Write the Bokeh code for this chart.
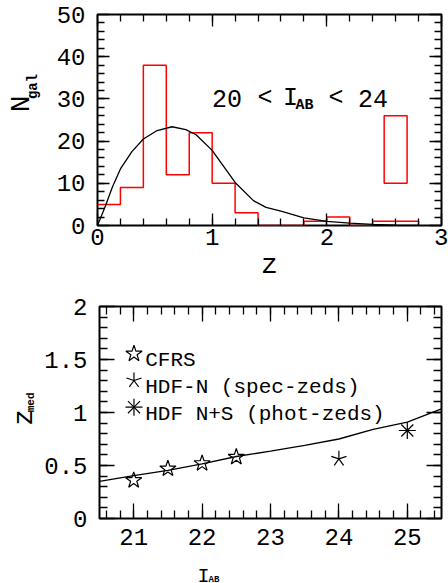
import numpy as np
from bokeh.plotting import figure
from bokeh.layouts import column, row
from bokeh.models import FixedTicker, LinearAxis, Label, CustomJSTickFormatter, Grid
from bokeh.embed import file_html
from bokeh.resources import INLINE

# ---------------- data: top panel ----------------
hist_edges = [0.0, 0.2, 0.4, 0.6, 0.8, 1.0, 1.2, 1.4, 1.6, 1.8, 2.0, 2.2, 2.4, 2.6, 2.8]
hist_counts = [5, 9, 38, 12, 22, 10, 3, 0, 0, 1, 2, 0, 1, 1]
box_left = [2.5]
box_right = [2.7]
box_bottom = [10]
box_top = [26]
model_z = [0.0, 0.07, 0.13, 0.2, 0.3, 0.4, 0.52, 0.65, 0.77, 0.86, 1.0, 1.1, 1.2,
           1.36, 1.47, 1.6, 1.8, 2.0, 2.2, 2.4, 2.6, 2.8]
model_n = [0.0, 4.7, 9.1, 13.4, 17.5, 20.5, 22.5, 23.4, 22.7, 21.5, 17.8, 14.0, 10.2,
           5.9, 4.3, 3.4, 1.8, 1.0, 0.55, 0.25, 0.1, 0.0]
top_xticks = [0, 1, 2, 3]
top_yticks = [0, 10, 20, 30, 40, 50]

# ---------------- data: bottom panel ----------------
mag_model = [20.5, 21.0, 21.5, 22.0, 22.5, 23.0, 23.5, 24.0, 24.5, 25.0, 25.5]
zmed_model = [0.35, 0.405, 0.455, 0.515, 0.585, 0.635, 0.69, 0.75, 0.84, 0.91, 1.035]
cfrs_mag = [21.0, 21.5, 22.0, 22.5]
cfrs_z = [0.36, 0.47, 0.52, 0.58]
hdfn_mag = [24.0]
hdfn_z = [0.563]
hdfns_mag = [25.0]
hdfns_z = [0.83]
bot_xticks = [21, 22, 23, 24, 25]
bot_yticks = [0, 0.5, 1, 1.5, 2]
bot_ytick_labels = ["0", "0.5", "1", "1.5", "2"]
legend_labels = ["CFRS", "HDF-N (spec-zeds)", "HDF N+S (phot-zeds)"]

FONT = "Liberation Mono"
TICK_FS = "24px"
STRIP_W = 41          # width of the strip holding the rotated y labels
MAIN_W = 448 - STRIP_W


def frame_axes(p, xt, xminor, yt, yminor, major_len, minor_len, xstand, ystand, yover=None):
    p.outline_line_color = "black"
    p.outline_line_width = 2
    p.xgrid.visible = False
    p.ygrid.visible = False
    p.add_layout(LinearAxis(), "above")
    p.add_layout(LinearAxis(), "right")
    for ax in p.xaxis:
        ax.ticker = FixedTicker(ticks=xt, minor_ticks=xminor)
    for ax in p.yaxis:
        ax.ticker = FixedTicker(ticks=yt, minor_ticks=yminor)
    for ax in list(p.xaxis) + list(p.yaxis):
        ax.axis_line_color = None
        ax.major_tick_in = major_len
        ax.major_tick_out = 0
        ax.minor_tick_in = minor_len
        ax.minor_tick_out = 0
        ax.major_tick_line_width = 1.3
        ax.minor_tick_line_width = 1.3
        ax.major_tick_line_color = "black"
        ax.minor_tick_line_color = "black"
        ax.major_label_text_font = FONT
        ax.major_label_text_font_size = TICK_FS
        ax.major_label_text_color = "black"
    p.below[0].major_label_standoff = xstand
    p.left[0].major_label_standoff = ystand
    if yover is not None:
        p.left[0].major_label_overrides = yover
    for ax in (p.above[0], p.right[0]):
        ax.formatter = CustomJSTickFormatter(code="return ''")
        ax.major_label_text_font_size = "0px"
        ax.major_label_standoff = 0


def lab(p, x, y, text, size, bold=False, align="left", baseline="alphabetic", angle=0):
    p.add_layout(Label(x=x, y=y, text=text, text_font=FONT, text_font_size=size,
                       text_font_style="bold" if bold else "normal",
                       text_align=align, text_baseline=baseline,
                       angle=angle, angle_units="deg", text_color="black"))


def strip(w, h):
    # text-only canvas, coordinates in its own pixels (y downwards)
    s = figure(width=w, height=h, x_range=(0, w), y_range=(h, 0),
               output_backend="svg", toolbar_location=None,
               x_axis_type=None, y_axis_type=None,
               min_border=0, min_border_left=0, min_border_right=0,
               min_border_top=0, min_border_bottom=0)
    s.outline_line_color = None
    s.background_fill_color = "white"
    s.border_fill_color = "white"
    for r in list(s.center):
        if isinstance(r, Grid):
            r.visible = False
    return s


def skeletal(p, xs, ys, n_arms, length, lw=1.2):
    ang = [90 + 360.0 / n_arms * k for k in range(n_arms)]
    p.ray(x=np.repeat(xs, n_arms), y=np.repeat(ys, n_arms), length=length,
          length_units="screen", angle=np.tile(ang, len(xs)), angle_units="deg",
          line_color="black", line_width=lw)


# ---------------- top panel ----------------
H1 = 293
p1 = figure(width=MAIN_W, height=H1, x_range=(0, 3), y_range=(0, 50),
            output_backend="svg", toolbar_location=None,
            min_border_left=97 - STRIP_W, min_border_right=7,
            min_border_top=14, min_border_bottom=68)
p1.background_fill_color = "white"
p1.border_fill_color = "white"
frame_axes(p1, top_xticks, list(np.round(np.arange(0.2, 3.0, 0.2), 2)),
           top_yticks, list(np.arange(2, 50, 2)), 12, 7, 3, 12)
p1.below[0].axis_label = "z"
p1.below[0].axis_label_text_font = FONT
p1.below[0].axis_label_text_font_size = "28px"
p1.below[0].axis_label_text_font_style = "normal"
p1.below[0].axis_label_text_color = "black"
p1.below[0].axis_label_standoff = 2

p1.step(x=hist_edges, y=hist_counts + [0], mode="after", line_color="#ff0000", line_width=1.5)
p1.quad(left=box_left, right=box_right, bottom=box_bottom, top=box_top,
        fill_color=None, line_color="#ff0000", line_width=1.5)
p1.line(model_z, model_n, line_color="black", line_width=1.3)

lab(p1, 1.129, 30.0, "20", "25px", align="center")
lab(p1, 1.461, 30.0, "<", "25px", align="center")
lab(p1, 1.683, 30.0, "I", "25px", align="center")
lab(p1, 1.727, 28.4, "AB", "15px", bold=True)
lab(p1, 2.080, 30.0, "<", "25px", align="center")
lab(p1, 2.403, 30.0, "24", "25px", align="center")

s1 = strip(STRIP_W, H1)
lab(s1, 20.5, 124, "N", "28px", align="center", baseline="middle", angle=90)
lab(s1, 32.8, 100, "gal", "14px", bold=True, align="center", baseline="middle", angle=90)

# ---------------- bottom panel ----------------
H2 = 13 + 212 + 37
p2 = figure(width=MAIN_W, height=H2, x_range=(20.5, 25.5), y_range=(0, 2),
            output_backend="svg", toolbar_location=None,
            min_border_left=97 - STRIP_W, min_border_right=7,
            min_border_top=13, min_border_bottom=37)
p2.background_fill_color = "white"
p2.border_fill_color = "white"
frame_axes(p2, bot_xticks, list(np.round(np.arange(20.6, 25.5, 0.2), 2)),
           bot_yticks, list(np.round(np.arange(0.1, 2.0, 0.1), 2)), 15, 8, 10, 12,
           yover={t: s for t, s in zip(bot_yticks, bot_ytick_labels)})

p2.line(mag_model, zmed_model, line_color="black", line_width=1.3)
p2.scatter(cfrs_mag, cfrs_z, marker="star", size=17, fill_color=None,
           line_color="black", line_width=1.2)
skeletal(p2, hdfn_mag, hdfn_z, 5, 8)
skeletal(p2, hdfns_mag, hdfns_z, 8, 8.5)

# legend (marker column + labels)
LEG_MX = 21.004
LEG_TX = 21.169
LEG_Y = [1.554, 1.302, 1.050]
p2.scatter([LEG_MX], [LEG_Y[0]], marker="star", size=17, fill_color=None,
           line_color="black", line_width=1.2)
skeletal(p2, [LEG_MX], [LEG_Y[1]], 5, 8)
skeletal(p2, [LEG_MX], [LEG_Y[2]], 8, 8.5)
for yy, txt in zip(LEG_Y, legend_labels):
    lab(p2, LEG_TX, yy - 0.068, txt, "21px")

s2 = strip(STRIP_W, H2)
lab(s2, 24, 137, "z", "28px", align="center", baseline="middle", angle=90)
lab(s2, 30.6, 118.5, "med", "11px", bold=True, align="center", baseline="middle", angle=90)

# strip under the bottom panel for the x label
H3 = 583 - H1 - H2
s3 = strip(448, H3)
lab(s3, 203, 20.5, "I", "20px", align="center")
lab(s3, 208, 24.0, "AB", "9px", bold=True)

layout = column(row(s1, p1), row(s2, p2), s3)
open("out.html", "w").write(file_html(layout, INLINE))
